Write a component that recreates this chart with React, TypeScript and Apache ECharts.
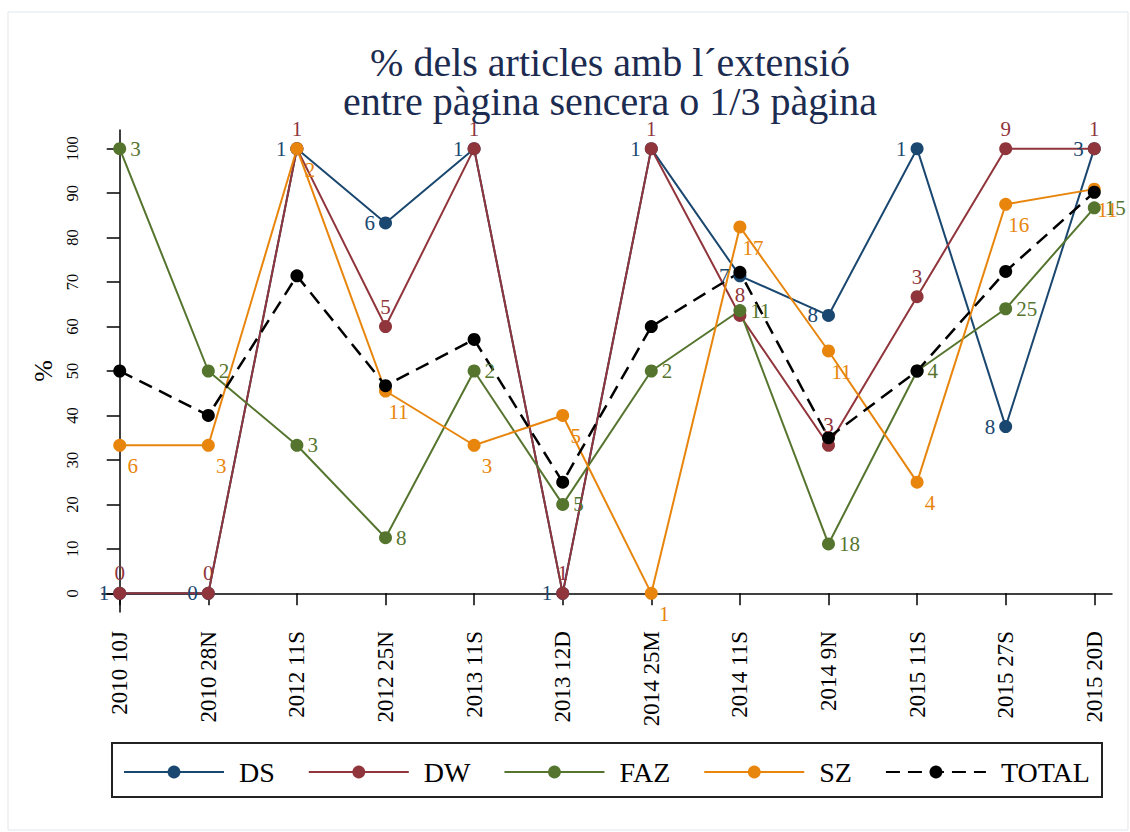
import React, { useEffect, useRef } from "react";
import * as echarts from "echarts";

const categories = ["2010 10J", "2010 28N", "2012 11S", "2012 25N", "2013 11S", "2013 12D", "2014 25M", "2014 11S", "2014 9N", "2015 11S", "2015 27S", "2015 20D"];
const yTicks = [0, 10, 20, 30, 40, 50, 60, 70, 80, 90, 100];

const dsValues = [0, 0, 100, 83.3, 100, 0, 100, 71.4, 62.5, 100, 37.5, 100];
const dsCounts = [1, 0, 1, 6, 1, 1, 1, 7, 8, 1, 8, 3];
const dwValues = [0, 0, 100, 60, 100, 0, 100, 62.5, 33.3, 66.7, 100, 100];
const dwCounts = [0, 0, 1, 5, 1, 1, 1, 8, 3, 3, 9, 1];
const fazValues = [100, 50, 33.3, 12.5, 50, 20, 50, 63.6, 11.1, 50, 64, 86.7];
const fazCounts = [3, 2, 3, 8, 2, 5, 2, 11, 18, 4, 25, 15];
const szValues = [33.3, 33.3, 100, 45.5, 33.3, 40, 0, 82.4, 54.5, 25, 87.5, 90.9];
const szCounts = [6, 3, 2, 11, 3, 5, 1, 17, 11, 4, 16, 11];
const totalValues = [50, 40, 71.4, 46.7, 57.1, 25, 60, 72.2, 35, 50, 72.4, 90.2];

const SERIF = "'Liberation Serif', 'Times New Roman', serif";
const C_DS = "#1a476f";
const C_DW = "#90353b";
const C_FAZ = "#55752f";
const C_SZ = "#e8850c";

export default function App() {
  const ref = useRef<HTMLDivElement>(null);
  useEffect(() => {
    if (!ref.current) return;
    const chart = echarts.init(ref.current, undefined, { renderer: "svg" });
    const pts = (vals: number[]) => vals.map((v, i) => [i, v]);
    const mk = (name: string, color: string, vals: number[], counts: number[] | null, labelCfg: any, dashed = false) => ({
      name,
      type: "line",
      data: pts(vals),
      symbol: "circle",
      symbolSize: 13,
      itemStyle: { color },
      lineStyle: { color, width: dashed ? 2.5 : 2, type: dashed ? [14, 8] : "solid" },
      label: counts
        ? {
            show: true,
            color,
            fontFamily: SERIF,
            fontSize: 21,
            formatter: (p: any) => String(counts[p.dataIndex]),
            ...labelCfg,
          }
        : { show: false },
      emphasis: { disabled: true },
    });
    chart.setOption({
      animation: false,
      backgroundColor: "#ffffff",
      title: {
        text: "% dels articles amb l´extensió\nentre pàgina sencera o 1/3 pàgina",
        left: 605,
        textAlign: "center",
        top: 38,
        textStyle: { fontFamily: SERIF, fontSize: 40, fontWeight: "normal", color: "#1c2b50", lineHeight: 39 },
      },
      grid: { left: 102, right: 18, top: 130, bottom: 220 },
      xAxis: {
        type: "value",
        min: -0.2,
        max: 11.2,
        splitLine: { show: false },
        axisLine: { show: true, lineStyle: { color: "#000", width: 1.5 } },
        axisTick: { show: true, length: 12, customValues: categories.map((_, i) => i), lineStyle: { color: "#000", width: 1.5 } },
        axisLabel: {
          customValues: categories.map((_, i) => i),
          rotate: 90,
          margin: 19,
          fontFamily: SERIF,
          fontSize: 23,
          color: "#000",
          formatter: (v: number) => categories[Math.round(v)] ?? "",
        },
      },
      yAxis: {
        type: "value",
        min: -4.2,
        max: 104.2,
        name: "%",
        nameLocation: "middle",
        nameGap: 35,
        nameRotate: 90,
        nameTextStyle: { fontFamily: SERIF, fontSize: 26, color: "#000" },
        splitLine: { show: false },
        axisLine: { show: true, lineStyle: { color: "#000", width: 1.5 } },
        axisTick: { show: true, length: 13, customValues: yTicks, lineStyle: { color: "#000", width: 1.5 } },
        axisLabel: {
          customValues: yTicks,
          rotate: 90,
          margin: 21,
          fontFamily: SERIF,
          fontSize: 16.5,
          color: "#000",
        },
      },
      legend: {
        left: 118,
        top: 753,
        itemGap: 33,
        itemWidth: 100,
        itemHeight: 16,
        textStyle: { fontFamily: SERIF, fontSize: 28, color: "#000", padding: [0, 0, 0, 10] },
        data: ["DS", "DW", "FAZ", "SZ", "TOTAL"],
      },
      graphic: [
        { type: "rect", shape: { x: 8, y: 12, width: 1120, height: 818 }, style: { fill: "none", stroke: "#dfe7eb", lineWidth: 1 }, silent: true },
        { type: "rect", shape: { x: 112, y: 743, width: 990, height: 54 }, style: { fill: "none", stroke: "#222", lineWidth: 2 }, silent: true },
      ],
      series: [
        mk("DS", C_DS, dsValues, dsCounts, { position: "left", distance: 4 }),
        mk("DW", C_DW, dwValues, dwCounts, { position: "top", distance: 3 }),
        mk("FAZ", C_FAZ, fazValues, fazCounts, { position: "right", distance: 4 }),
        mk("SZ", C_SZ, szValues, szCounts, { position: "bottom", distance: 3, offset: [13, 1] }),
        mk("TOTAL", "#000000", totalValues, null, {}, true),
      ],
    });
    return () => chart.dispose();
  }, []);
  return <div ref={ref} style={{ position: "absolute", left: 0, top: 0, width: 1130, height: 832 }} />;
}
